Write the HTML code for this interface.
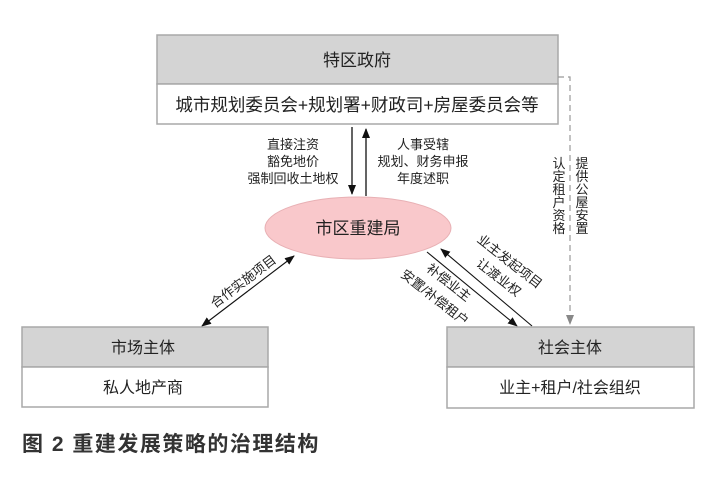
<!DOCTYPE html>
<html><head><meta charset="utf-8"><style>
html,body{margin:0;padding:0;background:#fff;}
svg text{font-family:"Liberation Sans","Noto Sans CJK SC",sans-serif;fill:#222;}
</style></head><body>
<svg width="716" height="476" viewBox="0 0 716 476" xmlns="http://www.w3.org/2000/svg">
<defs>
<marker id="a" markerWidth="10" markerHeight="10" refX="9" refY="5" orient="auto" markerUnits="userSpaceOnUse"><path d="M0,1 L10,5 L0,9 z" fill="#111"/></marker>
<marker id="g" markerWidth="10" markerHeight="10" refX="9" refY="5" orient="auto" markerUnits="userSpaceOnUse"><path d="M0,1 L10,5 L0,9 z" fill="#888"/></marker>
</defs>
<rect x="157" y="35" width="401" height="49" fill="#d4d4d4" stroke="#a8a8a8" stroke-width="1.5"/>
<rect x="157" y="84" width="401" height="40" fill="#fff" stroke="#a8a8a8" stroke-width="1.5"/>
<text x="357" y="66" font-size="17" text-anchor="middle">特区政府</text>
<text x="357" y="111" font-size="17.5" text-anchor="middle">城市规划委员会+规划署+财政司+房屋委员会等</text>
<line x1="352" y1="127" x2="352" y2="194" stroke="#111" stroke-width="1.3" marker-end="url(#a)"/>
<line x1="366" y1="196" x2="366" y2="129" stroke="#111" stroke-width="1.3" marker-end="url(#a)"/>
<g font-size="13" text-anchor="middle">
<text x="293" y="149">直接注资</text>
<text x="293" y="166">豁免地价</text>
<text x="293" y="183">强制回收土地权</text>
<text x="423" y="149">人事受辖</text>
<text x="423" y="166">规划、财务申报</text>
<text x="423" y="183">年度述职</text>
</g>
<polyline points="558,77 570,77 570,324" fill="none" stroke="#999" stroke-width="1.2" stroke-dasharray="6,4" marker-end="url(#g)"/>
<g font-size="13" text-anchor="middle">
<text x="559" y="168">认</text><text x="559" y="181">定</text><text x="559" y="194">租</text><text x="559" y="207">户</text><text x="559" y="220">资</text><text x="559" y="233">格</text>
<text x="582" y="168">提</text><text x="582" y="181">供</text><text x="582" y="194">公</text><text x="582" y="207">屋</text><text x="582" y="220">安</text><text x="582" y="233">置</text>
</g>
<ellipse cx="358" cy="228" rx="93" ry="31" fill="#f9c8cb" stroke="#e8b0b4" stroke-width="1"/>
<text x="358" y="234" font-size="17" text-anchor="middle">市区重建局</text>
<line x1="248" y1="291" x2="294" y2="256" stroke="#111" stroke-width="1.1" marker-end="url(#a)"/>
<line x1="248" y1="291" x2="202" y2="326" stroke="#111" stroke-width="1.1" marker-end="url(#a)"/>
<text transform="translate(246,285) rotate(-37)" font-size="13" text-anchor="middle">合作实施项目</text>
<line x1="427" y1="252" x2="517" y2="326" stroke="#111" stroke-width="1.1" marker-end="url(#a)"/>
<line x1="532" y1="326" x2="441" y2="249" stroke="#111" stroke-width="1.1" marker-end="url(#a)"/>
<text transform="translate(507,265) rotate(38)" font-size="13" text-anchor="middle">业主发起项目</text>
<text transform="translate(496,281) rotate(38)" font-size="13" text-anchor="middle">让渡业权</text>
<text transform="translate(446,286) rotate(38)" font-size="13" text-anchor="middle">补偿业主</text>
<text transform="translate(432,301) rotate(38)" font-size="13" text-anchor="middle">安置/补偿租户</text>
<rect x="22" y="327" width="246" height="40" fill="#d4d4d4" stroke="#a8a8a8" stroke-width="1.5"/>
<rect x="22" y="367" width="246" height="40" fill="#fff" stroke="#a8a8a8" stroke-width="1.5"/>
<text x="143" y="353" font-size="16" text-anchor="middle">市场主体</text>
<text x="143" y="393" font-size="16" text-anchor="middle">私人地产商</text>
<rect x="447" y="327" width="247" height="40" fill="#d4d4d4" stroke="#a8a8a8" stroke-width="1.5"/>
<rect x="447" y="367" width="247" height="41" fill="#fff" stroke="#a8a8a8" stroke-width="1.5"/>
<text x="570" y="353" font-size="16" text-anchor="middle">社会主体</text>
<text x="570" y="393" font-size="16" text-anchor="middle">业主+租户/社会组织</text>
<text x="22" y="451" font-size="21" font-weight="bold" letter-spacing="1.5" style="fill:#333">图 2  重建发展策略的治理结构</text>
</svg>
</body></html>
